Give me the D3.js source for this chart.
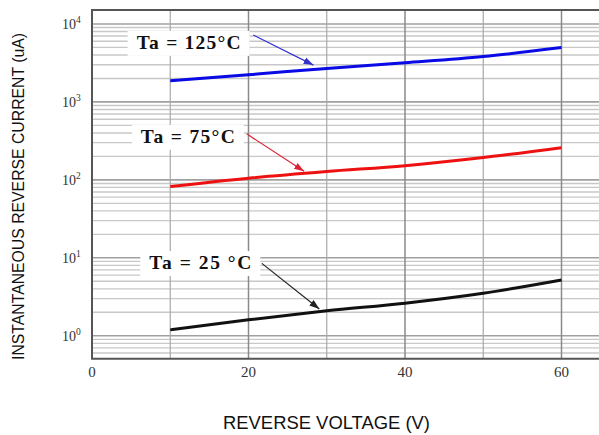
<!DOCTYPE html>
<html>
<head>
<meta charset="utf-8">
<script src="https://cdn.jsdelivr.net/npm/d3@7"></script>
<style>
  body { margin: 0; background: #fff; }
  svg { display: block; }
</style>
</head>
<body>
<div id="chart"></div>
<script>
// reverse voltage (V)
const voltages = [10, 20, 30, 40, 50, 60];
// reverse current (uA) per temperature
const current125 = [1870, 2230, 2690, 3180, 3820, 4980];
const current75 = [82, 105, 128, 152, 193, 259];
const current25 = [1.19, 1.6, 2.09, 2.62, 3.51, 5.19];
const xTicks = [0, 20, 40, 60];
const yTicks = [1, 10, 100, 1000, 10000];
const seriesNames = ["Ta = 125\u00B0C", "Ta = 75\u00B0C", "Ta = 25 \u00B0C"];
// annotation label (x, y) and arrow from/to, in data units
const labelPos = [[12.35, 4790], [12.25, 299], [13.84, 7.18]];
const arrowFrom = [[20.6, 7230], [19.77, 389], [21.7, 8.49]];
const arrowTo = [[28.3, 2966], [27.1, 128.5], [29.05, 2.21]];

const seriesColors = ["#0a0ae6", "#ee1111", "#111111"];
const arrowColors = ["#3333cc", "#dd2233", "#222222"];
const labelWidths = [104, 94, 102];

const W = 599, H = 435;
const margin = {top: 10, right: 0, bottom: 76, left: 92};

const svg = d3.select("#chart").append("svg")
  .attr("width", W).attr("height", H);

const xScale = d3.scaleLinear().domain([0, 65]).range([margin.left, margin.left + 65 * 7.825]);
const yScale = d3.scaleLog().domain([0.508, 15100]).range([H - margin.bottom - 0.3, margin.top]);

const x0 = xScale.range()[0], x1 = W;
const y0 = yScale.range()[0], y1 = yScale.range()[1];

// minor horizontal grid (2..9 per decade)
let minor = [];
for (let d = 0.1; d < 20000; d *= 10) {
  for (let k = 2; k <= 9; k++) {
    let v = d * k;
    if (v > yScale.domain()[0] && v < yScale.domain()[1]) minor.push(v);
  }
}
svg.append("g").selectAll("line").data(minor).enter().append("line")
  .attr("x1", x0).attr("x2", x1)
  .attr("y1", d => yScale(d)).attr("y2", d => yScale(d))
  .attr("stroke", "#c8c8c8").attr("stroke-width", 1.4);

// major horizontal grid
svg.append("g").selectAll("line").data(yTicks).enter().append("line")
  .attr("x1", x0).attr("x2", x1)
  .attr("y1", d => yScale(d)).attr("y2", d => yScale(d))
  .attr("stroke", "#a0a0a0").attr("stroke-width", 1.6);

// vertical grid
svg.append("g").selectAll("line").data([10, 20, 30, 40, 50, 60]).enter().append("line")
  .attr("x1", d => xScale(d)).attr("x2", d => xScale(d))
  .attr("y1", y1).attr("y2", y0)
  .attr("stroke", d => d % 20 === 0 ? "#8a8a8a" : "#a8a8a8")
  .attr("stroke-width", d => d % 20 === 0 ? 1.5 : 1.2);

// frame (top, left, bottom)
svg.append("path")
  .attr("d", "M" + x1 + "," + y1 + "H" + x0 + "V" + y0 + "H" + x1)
  .attr("fill", "none").attr("stroke", "#555").attr("stroke-width", 2);

// y tick labels 10^n
let yl = svg.append("g").selectAll("text").data(yTicks).enter().append("text")
  .attr("x", 62).attr("y", d => yScale(d) + 5.5)
  .attr("font-family", "Liberation Serif, Times New Roman, serif")
  .attr("font-size", 14).attr("fill", "#333");
yl.append("tspan").text("10");
yl.append("tspan").attr("dy", -6).attr("font-size", 9.5).text(d => Math.round(Math.log10(d)));

// x tick labels
svg.append("g").selectAll("text").data(xTicks).enter().append("text")
  .attr("x", d => xScale(d)).attr("y", 377)
  .attr("text-anchor", "middle")
  .attr("font-family", "Liberation Serif, Times New Roman, serif")
  .attr("font-size", 15).attr("fill", "#333")
  .text(d => d);

// axis titles
svg.append("text")
  .attr("x", 326.5).attr("y", 429)
  .attr("text-anchor", "middle")
  .attr("font-family", "Liberation Sans, Arial, sans-serif")
  .attr("font-size", 18).attr("fill", "#111")
  .attr("textLength", 207).attr("lengthAdjust", "spacingAndGlyphs")
  .text("REVERSE VOLTAGE (V)");

svg.append("text")
  .attr("transform", "translate(23.5,196.5) rotate(-90)")
  .attr("text-anchor", "middle")
  .attr("font-family", "Liberation Sans, Arial, sans-serif")
  .attr("font-size", 17).attr("fill", "#111")
  .attr("textLength", 327).attr("lengthAdjust", "spacingAndGlyphs")
  .text("INSTANTANEOUS REVERSE CURRENT (uA)");

// curves
const allSeries = [current125, current75, current25];
const line = d3.line()
  .x((d, i) => xScale(voltages[i]))
  .y(d => yScale(d))
  .curve(d3.curveMonotoneX);

svg.append("g").selectAll("path").data(allSeries).enter().append("path")
  .attr("d", line)
  .attr("fill", "none")
  .attr("stroke", (d, i) => seriesColors[i])
  .attr("stroke-width", 3);

// arrow heads
let defs = svg.append("defs");
arrowColors.forEach((c, i) => {
  defs.append("marker")
    .attr("id", "arr" + i)
    .attr("viewBox", "0 0 10 10").attr("refX", 10).attr("refY", 5)
    .attr("markerWidth", 10).attr("markerHeight", 10)
    .attr("markerUnits", "userSpaceOnUse")
    .attr("orient", "auto")
    .append("path").attr("d", "M0,1.5L10,5L0,8.5Z").attr("fill", c);
});

// labels with white boxes
let labels = svg.append("g");
seriesNames.forEach((name, i) => {
  let g = labels.append("g");
  let t = g.append("text")
    .attr("x", xScale(labelPos[i][0])).attr("y", yScale(labelPos[i][1]))
    .attr("text-anchor", "middle")
    .attr("font-family", "Liberation Serif, Times New Roman, serif")
    .attr("font-weight", "bold")
    .attr("font-size", 19.5).attr("fill", "#111")
    .attr("textLength", labelWidths[i]).attr("lengthAdjust", "spacing")
    .text(name);
  let bb = t.node().getBBox();
  g.insert("rect", "text")
    .attr("x", bb.x - 9).attr("y", bb.y - 1)
    .attr("width", bb.width + 18).attr("height", bb.height + 4)
    .attr("fill", "#fff");
});

svg.append("g").selectAll("line").data(arrowFrom).enter().append("line")
  .attr("x1", d => xScale(d[0])).attr("y1", d => yScale(d[1]))
  .attr("x2", (d, i) => xScale(arrowTo[i][0])).attr("y2", (d, i) => yScale(arrowTo[i][1]))
  .attr("stroke", (d, i) => arrowColors[i])
  .attr("stroke-width", 1.2)
  .attr("marker-end", (d, i) => "url(#arr" + i + ")");
</script>
</body>
</html>
